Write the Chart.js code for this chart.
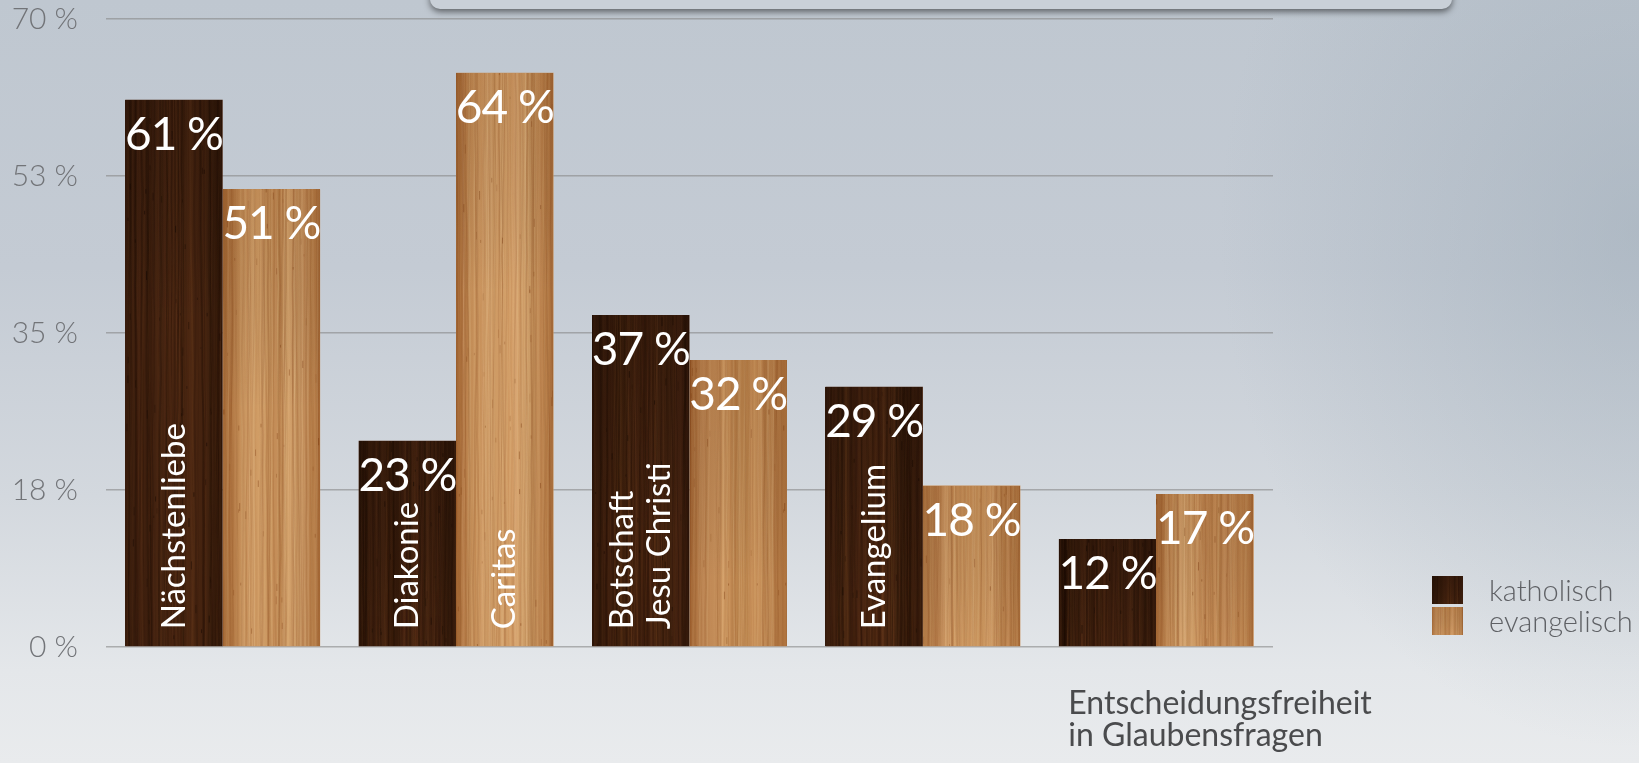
<!DOCTYPE html>
<html>
<head>
<meta charset="utf-8">
<script src="https://cdn.jsdelivr.net/npm/chart.js@4.4.0/dist/chart.umd.min.js"></script>
<style>
    html, body {
        margin: 0;
        padding: 0;
        width: 1639px;
        height: 763px;
        overflow: hidden;
    }
    body {
        position: relative;
        background:
            radial-gradient(ellipse 420px 520px at 100% 30%, rgba(150, 165, 178, 0.45), rgba(150, 165, 178, 0) 100%),
            linear-gradient(to bottom, #bfc7d0 0%, #c4cbd4 35%, #d3d8de 65%, #e4e7ea 88%, #e9ebed 100%);
    }
    #panel {
        position: absolute;
        left: 430px;
        top: -47px;
        width: 1022px;
        height: 56px;
        border-radius: 10px;
        background: #c9d0d8;
        box-shadow: 0 3px 6px rgba(0, 0, 0, 0.5);
    }
    #wrap {
        position: absolute;
        left: 0;
        top: 0;
    }
</style>
</head>
<body>
<div id="panel"></div>
<div id="wrap"><canvas id="woodChart" width="1639" height="763"></canvas></div>
<script>
// categories and values
const categories = ['Nächstenliebe', 'Diakonie / Caritas', 'Botschaft Jesu Christi', 'Evangelium', ['Entscheidungsfreiheit', 'in Glaubensfragen']];
const katholisch = [61, 23, 37, 29, 12];
const evangelisch = [51, 64, 32, 18, 17];

// labels written inside the bars (empty = label goes under the axis)
const katholischLabels = ['Nächstenliebe', 'Diakonie', ['Botschaft', 'Jesu Christi'], 'Evangelium', ''];
const evangelischLabels = ['', 'Caritas', '', '', ''];

const yTicks = [0, 17.5, 35, 52.5, 70];

// simple seeded random, only used for the wood grain texture
function seeded(seed) {
    let s = seed;
    return function () {
        s = (s * 16807) % 2147483647;
        return s / 2147483647;
    };
}

function makeWood(w, h, base, lightLine, darkLine, seed) {
    const c = document.createElement('canvas');
    c.width = w;
    c.height = h;
    const g = c.getContext('2d');
    const rnd = seeded(seed);
    g.fillStyle = base;
    g.fillRect(0, 0, w, h);
    // broad tone bands
    for (let k = 0; k < w / 6; k++) {
        const x0 = rnd() * w;
        const bw = 4 + rnd() * 18;
        g.fillStyle = rnd() < 0.5 ? lightLine(0.04 + rnd() * 0.08) : darkLine(0.04 + rnd() * 0.1);
        g.fillRect(x0, 0, bw, h);
    }
    // fine grain lines
    for (let k = 0; k < w * 1.2; k++) {
        let x = rnd() * w;
        g.strokeStyle = rnd() < 0.5 ? lightLine(0.05 + rnd() * 0.15) : darkLine(0.05 + rnd() * 0.2);
        g.lineWidth = 0.4 + rnd() * 1.6;
        g.beginPath();
        g.moveTo(x, 0);
        for (let yy = 30; yy <= h + 30; yy += 30) {
            x += (rnd() - 0.5) * 1.6;
            g.lineTo(x, yy);
        }
        g.stroke();
    }
    // small flecks
    for (let k = 0; k < (w * h) / 900; k++) {
        g.fillStyle = darkLine(0.2 + rnd() * 0.4);
        g.fillRect(rnd() * w, rnd() * h, 1, 2 + rnd() * 7);
    }
    return c;
}

const darkWood = makeWood(700, 660, '#44220f',
    a => `rgba(125, 75, 40, ${a})`, a => `rgba(20, 8, 2, ${a})`, 1234);
const lightWood = makeWood(700, 660, '#c68c54',
    a => `rgba(240, 205, 155, ${a})`, a => `rgba(130, 65, 20, ${a})`, 4321);
const textures = [darkWood, lightWood];
const inBarLabels = [katholischLabels, evangelischLabels];

function drawPiece(ctx, tex, idx, left, top, width, height, light) {
    const sx = (idx * 131) % (tex.width - width - 1);
    const sy = Math.max(0, tex.height - height);
    ctx.drawImage(tex, sx, sy, width, height, left, top, width, height);
    const g = ctx.createLinearGradient(left, 0, left + width, 0);
    if (light) {
        g.addColorStop(0, 'rgba(120, 55, 10, 0.35)');
        g.addColorStop(0.35, 'rgba(255, 225, 175, 0.12)');
        g.addColorStop(0.65, 'rgba(255, 225, 175, 0.10)');
        g.addColorStop(1, 'rgba(120, 55, 10, 0.35)');
    } else {
        g.addColorStop(0, 'rgba(10, 3, 0, 0.2)');
        g.addColorStop(0.5, 'rgba(90, 50, 25, 0.06)');
        g.addColorStop(1, 'rgba(10, 3, 0, 0.2)');
    }
    ctx.fillStyle = g;
    ctx.fillRect(left, top, width, height);
    const v = ctx.createLinearGradient(0, top, 0, top + Math.min(height, 220));
    v.addColorStop(0, light ? 'rgba(100, 45, 5, 0.15)' : 'rgba(15, 5, 0, 0.25)');
    v.addColorStop(1, 'rgba(0, 0, 0, 0)');
    ctx.fillStyle = v;
    ctx.fillRect(left, top, width, height);
}

const woodPlugin = {
    id: 'wood',
    afterDatasetsDraw(chart) {
        const ctx = chart.ctx;
        ctx.save();
        chart.data.datasets.forEach((ds, di) => {
            const meta = chart.getDatasetMeta(di);
            meta.data.forEach((bar, i) => {
                const { x, y, base, width } = bar.getProps(['x', 'y', 'base', 'width'], true);
                const left = Math.round(x - width / 2);
                const w = Math.round(width);
                const top = Math.round(y);
                const h = Math.round(base) - top;
                drawPiece(ctx, textures[di], i * 2 + di, left, top, w, h, di === 1);

                // value on top of the bar
                ctx.fillStyle = '#ffffff';
                ctx.font = '400 46px Lato';
                ctx.letterSpacing = '-1px';
                ctx.textAlign = 'center';
                ctx.textBaseline = 'alphabetic';
                ctx.fillText(ds.data[i] + ' %', x, y + 50);
                ctx.letterSpacing = '0px';

                // rotated category text inside the bar
                const lab = inBarLabels[di][i];
                if (lab) {
                    const lines = Array.isArray(lab) ? lab : [lab];
                    ctx.save();
                    ctx.translate(x, base - 17);
                    ctx.rotate(-Math.PI / 2);
                    ctx.font = '400 33px Lato';
                    ctx.textAlign = 'left';
                    ctx.textBaseline = 'middle';
                    lines.forEach((line, j) => {
                        ctx.fillText(line, 0, (j - (lines.length - 1) / 2) * 37);
                    });
                    ctx.restore();
                }
            });
        });
        ctx.restore();
    },
    afterDraw(chart) {
        // legend with wood swatches
        const ctx = chart.ctx;
        const area = chart.chartArea;
        ctx.save();
        chart.data.datasets.forEach((ds, di) => {
            const bx = Math.round(area.right + 159);
            const by = Math.round(area.bottom - 71 + di * 31);
            drawPiece(ctx, textures[di], 3 + di * 5, bx, by, 31, 28, di === 1);
            ctx.fillStyle = '#5f6165';
            ctx.font = '300 29px Lato';
            ctx.textAlign = 'left';
            ctx.textBaseline = 'middle';
            ctx.fillText(ds.label, bx + 57, by + 16);
        });
        ctx.restore();
    }
};

function buildChart() {
    const ctx = document.getElementById('woodChart').getContext('2d');
    new Chart(ctx, {
        type: 'bar',
        data: {
            labels: categories,
            datasets: [{
                label: 'katholisch',
                data: katholisch,
                backgroundColor: '#44220f'
            }, {
                label: 'evangelisch',
                data: evangelisch,
                backgroundColor: '#c68c54'
            }]
        },
        options: {
            responsive: false,
            animation: false,
            devicePixelRatio: 1,
            layout: {
                padding: { top: 19, right: 366, bottom: 0, left: 0 }
            },
            datasets: {
                bar: {
                    categoryPercentage: 0.835,
                    barPercentage: 1.0
                }
            },
            plugins: {
                legend: { display: false },
                tooltip: { enabled: false }
            },
            scales: {
                x: {
                    grid: { display: false },
                    border: { display: false },
                    afterFit: scale => { scale.height = 116; },
                    ticks: {
                        autoSkip: false,
                        maxRotation: 0,
                        minRotation: 0,
                        align: 'start',
                        labelOffset: -88,
                        padding: 33,
                        color: '#4a4b4d',
                        font: { family: 'Lato', size: 32, weight: '400', lineHeight: 1.0 },
                        callback: function (value, index) {
                            if (katholischLabels[index] || evangelischLabels[index]) return '';
                            return categories[index];
                        }
                    }
                },
                y: {
                    min: 0,
                    max: 70,
                    afterFit: scale => {
                        scale.width = 106;
                        scale.paddingTop = 0;
                        scale.paddingBottom = 0;
                    },
                    afterBuildTicks: scale => { scale.ticks = yTicks.map(v => ({ value: v })); },
                    border: { display: false },
                    grid: {
                        color: 'rgba(135, 135, 135, 0.6)',
                        lineWidth: 1.5,
                        drawTicks: false
                    },
                    ticks: {
                        padding: 28,
                        color: '#727478',
                        font: { family: 'Lato', size: 30, weight: '300' },
                        callback: value => Math.round(value) + ' %'
                    }
                }
            }
        },
        plugins: [woodPlugin]
    });
}

Promise.all([
    document.fonts.load('400 46px Lato'),
    document.fonts.load('300 30px Lato')
]).then(buildChart, buildChart);
</script>
</body>
</html>
